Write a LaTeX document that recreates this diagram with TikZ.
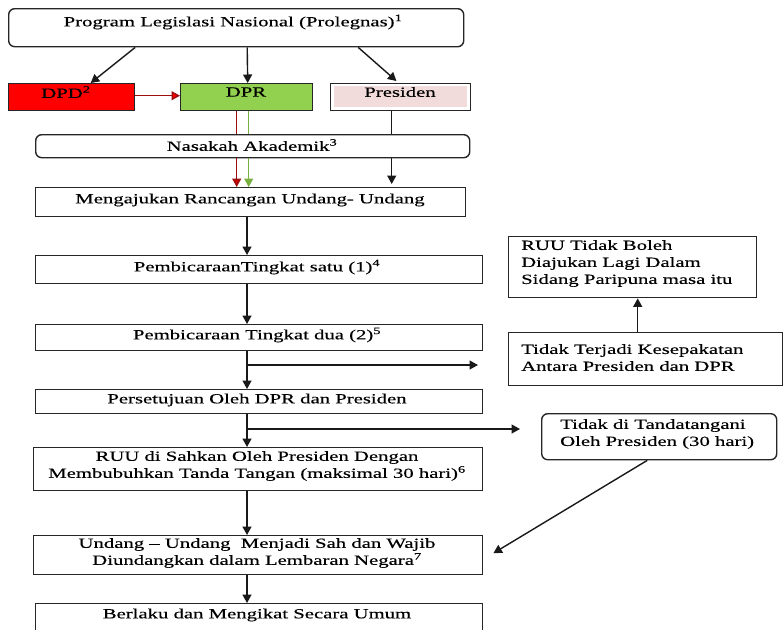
\documentclass[tikz,border=0pt]{standalone}
\usepackage{fontspec}
\setmainfont{Liberation Serif}[FakeStretch=1.48,FakeBold=0.35]
\usetikzlibrary{arrows.meta}
\definecolor{dpdred}{HTML}{FF0000}
\definecolor{dprgreen}{HTML}{92D050}
\definecolor{prespink}{HTML}{F2DCDB}
\definecolor{linered}{HTML}{9A0E0E}
\definecolor{linegreen}{HTML}{78B040}
\begin{document}
\begin{tikzpicture}[x=1pt,y=-1pt,
  font=\fontsize{14}{17}\selectfont,
  box/.style={draw=black!85, line width=1.4pt, inner sep=0pt, anchor=north west, fill=white},
  rbox/.style={box, rounded corners=6pt},
  conn/.style={line width=1.4pt, draw=black!90},
  arr/.style={conn, -{Triangle[length=8.5pt,width=9pt]}},
  txt/.style={inner sep=0pt, align=center},
  ltxt/.style={inner sep=0pt, align=left, anchor=north west}]
\clip (0,0) rectangle (783,629);
\fill[white] (0,0) rectangle (783,629);
% spine
\coordinate (spine) at (247,0);
% top
\node[rbox, minimum width=455pt, minimum height=38pt] (prol) at (8,8) {};
\node[txt] (proltxt) at (233,22) {Program Legislasi Nasional (Prolegnas)\textsuperscript{1}};
\node[box, fill=dpdred, minimum width=126pt, minimum height=27pt] (dpd) at (8,83) {};
\node[txt] (dpdtxt) at (66,92) {DPD\textsuperscript{2}};
\node[box, fill=dprgreen, minimum width=132pt, minimum height=27pt] (dpr) at (180,83) {};
\node[txt] (dprtxt) at (246,92) {DPR};
\node[box, minimum width=140pt, minimum height=27pt] (pres) at (330,83) {};
\fill[prespink] (333.5,86) rectangle (466.5,107);
\node[txt] (prestxt) at (400,92) {Presiden};
\node[rbox, minimum width=434pt, minimum height=23pt] (nas) at (35,134) {};
\node[txt] (nastxt) at (252,145) {Nasakah Akademik\textsuperscript{3}};
\node[box, minimum width=430pt, minimum height=29pt] (meng) at (35,187) {};
\node[txt] (mengtxt) at (250,200) {Mengajukan Rancangan Undang- Undang};
\node[box, minimum width=447pt, minimum height=28pt] (satu) at (35,255) {};
\node[txt] (satutxt) at (257,267) {PembicaraanTingkat satu (1)\textsuperscript{4}};
\node[box, minimum width=447pt, minimum height=26pt] (dua) at (35,324) {};
\node[txt] (duatxt) at (257,335) {Pembicaraan Tingkat dua (2)\textsuperscript{5}};
\node[box, minimum width=447pt, minimum height=24pt] (setuju) at (35,389) {};
\node[txt] (setujutxt) at (257,400) {Persetujuan Oleh DPR dan Presiden};
\node[box, minimum width=449pt, minimum height=43pt] (sah) at (33,447) {};
\node[txt] (sahtxt) at (257,466) {RUU di Sahkan Oleh Presiden Dengan\\Membubuhkan Tanda Tangan (maksimal 30 hari)\textsuperscript{6}};
\node[box, minimum width=449pt, minimum height=39pt] (undang) at (33,535) {};
\node[txt] (undangtxt) at (257,553) {Undang -- Undang\ \ Menjadi Sah dan Wajib\\Diundangkan dalam Lembaran Negara\textsuperscript{7}};
\node[box, minimum width=447pt, minimum height=40pt] (berlaku) at (35,603) {};
\node[txt] (berlakutxt) at (257,615) {Berlaku dan Mengikat Secara Umum};
% right side
\node[box, minimum width=248pt, minimum height=61pt] (tolak) at (508,236) {};
\begin{scope}
\clip (509,237) rectangle (755,296);
\node[ltxt] (tolaktxt) at (521,240) {RUU Tidak Boleh\\Diajukan Lagi Dalam\\Sidang Paripuna masa itu};
\end{scope}
\node[box, minimum width=274pt, minimum height=53pt] (tks) at (508,332) {};
\node[ltxt] (tkstxt) at (521,344) {Tidak Terjadi Kesepakatan\\Antara Presiden dan DPR};
\node[rbox, minimum width=235pt, minimum height=46pt] (ttd) at (541,413) {};
\node[ltxt] (ttdtxt) at (560,419) {Tidak di Tandatangani\\Oleh Presiden (30 hari)};
% connectors top
\draw[arr] ([xshift=-101pt]prol.south) -- ([xshift=19pt]dpd.north);
\draw[arr] ([xshift=11pt]prol.south) -- ([xshift=1pt]dpr.north);
\draw[arr, shorten >=3pt] ([xshift=122pt]prol.south) -- ([xshift=-2pt]pres.north);
\draw[line width=1.4pt, draw=linered, -{Triangle[length=8.5pt,width=9pt,fill=red]}] ([yshift=1.5pt]dpd.east) -- ([yshift=1.5pt]dpr.west);
\draw[line width=1.4pt, draw=linered] ([xshift=-10pt]dpr.south) -- ([xshift=-10pt]dpr.south |- nas.north);
\draw[line width=1.4pt, draw=linered, -{Triangle[length=8.5pt,width=9pt,fill=red!80!black]}] ([xshift=-10pt]dpr.south |- nas.south) -- ([xshift=-10pt]dpr.south |- meng.north);
\draw[line width=1.4pt, draw=linegreen] ([xshift=2pt]dpr.south) -- ([xshift=2pt]dpr.south |- nas.north);
\draw[line width=1.4pt, draw=linegreen, -{Triangle[length=8.5pt,width=9pt]}] ([xshift=2pt]dpr.south |- nas.south) -- ([xshift=2pt]dpr.south |- meng.north);
\draw[conn] ([xshift=-9pt]pres.south) -- ([xshift=-9pt]pres.south |- nas.north);
\draw[arr, shorten >=3pt] ([xshift=-9pt]pres.south |- nas.south) -- ([xshift=-9pt]pres.south |- meng.north);
% spine
\draw[arr] (meng.south -| spine) -- (satu.north -| spine);
\draw[arr] (satu.south -| spine) -- (dua.north -| spine);
\draw[arr] (dua.south -| spine) -- (setuju.north -| spine);
\draw[arr] (setuju.south -| spine) -- (sah.north -| spine);
\draw[arr] (sah.south -| spine) -- (undang.north -| spine);
\draw[arr] (undang.south -| spine) -- (berlaku.north -| spine);
% branches
\coordinate (b1) at (478,365);
\coordinate (b2) at (520,429);
\draw[arr] (b1 -| spine) -- (b1);
\draw[arr] (b2 -| spine) -- (b2);
\draw[arr] ([xshift=-8pt]tks.north) -- ([xshift=-8pt]tks.north |- tolak.south);
\draw[arr] ([xshift=-12pt]ttd.south) -- ([xshift=10pt,yshift=2pt]undang.east);
\end{tikzpicture}
\end{document}
